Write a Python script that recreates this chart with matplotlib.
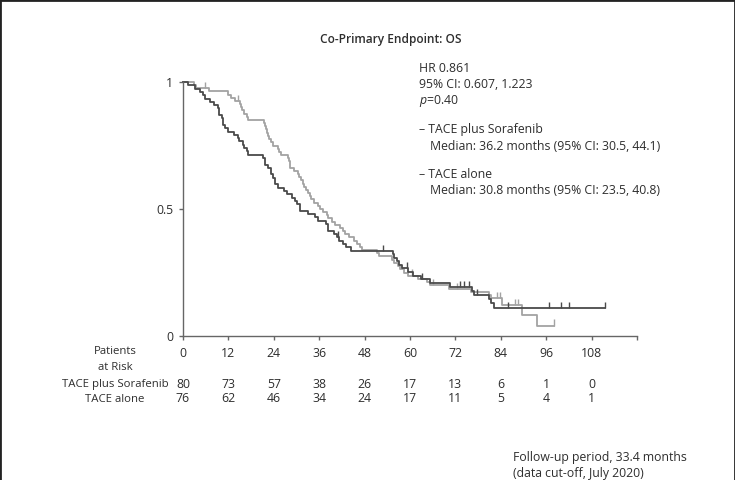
import numpy as np
import matplotlib
matplotlib.use("Agg")
import matplotlib.pyplot as plt
from matplotlib.lines import Line2D
from matplotlib.transforms import blended_transform_factory

plt.rcParams['font.family'] = ['Open Sans', 'DejaVu Sans']
plt.rcParams['mathtext.fontset'] = 'custom'
plt.rcParams['mathtext.rm'] = 'Open Sans'
plt.rcParams['mathtext.it'] = 'Open Sans:italic'

# TACE plus Sorafenib (light grey curve), step times / survival after step
sor_t = [0, 2.8, 3.5, 7.0, 11.8, 12.8, 13.8, 15.0, 15.3, 15.6, 16.0, 17.0, 17.3,
         21.3, 21.6, 22.0, 22.3, 22.5, 22.8, 23.2, 23.7, 25.0, 25.5, 26.0, 27.7,
         28.0, 28.2, 28.4, 29.3, 30.3, 30.6, 31.2, 31.6, 31.9, 32.5, 33.0, 33.5,
         33.8, 34.5, 35.6, 36.2, 37.0, 38.0, 38.4, 39.5, 40.2, 41.5, 42.3, 42.8,
         44.0, 45.3, 46.0, 46.8, 47.3, 51.3, 51.8, 55.2, 55.8, 56.8, 57.3, 58.5,
         59.5, 62.0, 64.5, 65.2, 70.3, 76.0, 81.0, 81.5, 84.3, 89.6, 93.6]
sor_s = [1.0, 0.988, 0.975, 0.963, 0.950, 0.938, 0.925, 0.912, 0.900, 0.888, 0.875, 0.863, 0.850,
         0.838, 0.825, 0.813, 0.800, 0.788, 0.775, 0.763, 0.750, 0.738, 0.725, 0.713, 0.700,
         0.688, 0.675, 0.663, 0.650, 0.638, 0.625, 0.613, 0.600, 0.588, 0.575, 0.563, 0.550,
         0.538, 0.525, 0.513, 0.500, 0.488, 0.475, 0.463, 0.450, 0.438, 0.425, 0.413, 0.400,
         0.388, 0.375, 0.363, 0.350, 0.338, 0.325, 0.313, 0.300, 0.288, 0.275, 0.263, 0.250,
         0.238, 0.225, 0.213, 0.200, 0.186, 0.173, 0.160, 0.148, 0.123, 0.082, 0.041]
sor_end = 98.1
sor_cens = [5.9, 14.6, 60.5, 66.0, 72.5, 83.0, 83.7, 87.8, 88.6, 98.1]

# TACE alone (dark grey curve)
alone_t = [0, 1.2, 3.2, 4.4, 5.2, 5.9, 7.2, 8.3, 9.3, 9.6, 10.2, 10.6, 11.2, 12.0,
           13.4, 14.5, 14.8, 15.8, 16.2, 16.8, 17.3, 21.2, 21.8, 22.4, 23.3, 23.8,
           24.4, 25.0, 26.6, 27.5, 28.7, 29.5, 30.0, 30.8, 33.0, 35.0, 35.6, 37.8,
           38.3, 40.0, 40.6, 41.3, 42.3, 43.2, 44.4, 55.5, 55.9, 56.5, 57.2, 57.8,
           59.6, 60.9, 63.0, 65.2, 70.5, 76.5, 77.0, 80.8, 81.5, 82.3]
alone_s = [1.0, 0.987, 0.974, 0.961, 0.948, 0.935, 0.922, 0.909, 0.896, 0.870, 0.857, 0.831, 0.818, 0.805,
           0.792, 0.779, 0.766, 0.753, 0.740, 0.727, 0.714, 0.701, 0.675, 0.662, 0.636, 0.623,
           0.597, 0.584, 0.571, 0.558, 0.545, 0.532, 0.519, 0.493, 0.480, 0.467, 0.454, 0.441,
           0.415, 0.402, 0.389, 0.375, 0.362, 0.349, 0.336, 0.322, 0.308, 0.294, 0.280, 0.266,
           0.252, 0.238, 0.224, 0.210, 0.193, 0.177, 0.161, 0.145, 0.128, 0.110]
alone_end = 111.5
alone_cens = [41.0, 52.9, 59.3, 63.3, 73.2, 74.2, 75.5, 77.7, 86.0, 96.8, 100.0, 102.0, 111.5]

months = [0, 12, 24, 36, 48, 60, 72, 84, 96, 108]
risk_sor = [80, 73, 57, 38, 26, 17, 13, 6, 1, 0]
risk_alone = [76, 62, 46, 34, 24, 17, 11, 5, 4, 1]

W, H = 735, 480
txt = '#2e2e2e'
light = '#a3a3a3'
dark = '#4a4a4a'


def fx(px):
    return px / W


def fy(py):
    return 1 - py / H


fig = plt.figure(figsize=(W / 100, H / 100), dpi=100)
ax = fig.add_axes([fx(183), fy(336), fx(637) - fx(183), fy(82) - fy(336)])


def draw_arm(t, s, end, cens, col, lw):
    ax.step(list(t) + [end], list(s) + [s[-1]], where='post', color=col, lw=lw, clip_on=False)
    t_arr = np.array(t)
    s_arr = np.array(s)
    idx = np.searchsorted(t_arr, cens, side='right') - 1
    ax.vlines(cens, s_arr[idx], s_arr[idx] + 0.024, color=col, lw=1.0, clip_on=False)


draw_arm(sor_t, sor_s, sor_end, sor_cens, light, 1.3)
draw_arm(alone_t, alone_s, alone_end, alone_cens, dark, 1.3)

ax.set_xlim(0, 120)
ax.set_ylim(0, 1)
ax.spines['top'].set_visible(False)
ax.spines['right'].set_visible(False)
for sp in ['left', 'bottom']:
    ax.spines[sp].set_color('#666666')
    ax.spines[sp].set_linewidth(1.0)
ax.set_xticks(months + [120])
ax.set_xticklabels([str(m) for m in months] + [''])
ax.set_yticks([0, 0.5, 1])
ax.set_yticklabels(['0', '0.5', '1'])
fs = 8.8
ax.tick_params(axis='both', colors='#666666', labelcolor=txt, labelsize=fs, length=3, width=1.0)
ax.tick_params(axis='x', pad=5)
ax.tick_params(axis='y', pad=4)

fig.text(fx(391), fy(40), 'Co-Primary Endpoint: OS', ha='center', va='center',
         fontsize=8.6, fontweight='semibold', color=txt)

fig.text(fx(419), fy(69), 'HR 0.861', ha='left', va='center', fontsize=fs, color=txt)
fig.text(fx(419), fy(85), '95% CI: 0.607, 1.223', ha='left', va='center', fontsize=fs, color=txt)
fig.text(fx(419), fy(101), '$p$=0.40', ha='left', va='center', fontsize=fs, color=txt)
fig.text(fx(419), fy(130), '\u2013 TACE plus Sorafenib', ha='left', va='center', fontsize=fs, color=txt)
fig.text(fx(430), fy(146), 'Median: 36.2 months (95% CI: 30.5, 44.1)', ha='left', va='center', fontsize=fs, color=txt)
fig.text(fx(419), fy(175), '\u2013 TACE alone', ha='left', va='center', fontsize=fs, color=txt)
fig.text(fx(430), fy(191), 'Median: 30.8 months (95% CI: 23.5, 40.8)', ha='left', va='center', fontsize=fs, color=txt)

# risk table
fl = 8.2
fig.text(fx(115), fy(352), 'Patients', ha='center', va='center', fontsize=fl, color=txt)
fig.text(fx(115), fy(368), 'at Risk', ha='center', va='center', fontsize=fl, color=txt)
fig.text(fx(115), fy(384), 'TACE plus Sorafenib', ha='center', va='center', fontsize=fl, color=txt)
fig.text(fx(115), fy(399), 'TACE alone', ha='center', va='center', fontsize=fl, color=txt)
tr = blended_transform_factory(ax.transData, fig.transFigure)
for m, a, b in zip(months, risk_sor, risk_alone):
    ax.text(m, fy(384), str(a), transform=tr, ha='center', va='center', fontsize=fs, color=txt)
    ax.text(m, fy(399), str(b), transform=tr, ha='center', va='center', fontsize=fs, color=txt)

fig.text(fx(513), fy(458), 'Follow-up period, 33.4 months', ha='left', va='center', fontsize=fs, color=txt)
fig.text(fx(513), fy(473), '(data cut-off, July 2020)', ha='left', va='center', fontsize=fs, color=txt)

# frame round the figure (top, left, right)
fig.add_artist(Line2D([0, 0, 1, 1], [0, 1, 1, 0], transform=fig.transFigure,
                      color='#222222', lw=2.0))

fig.savefig('out.png', dpi=100)
